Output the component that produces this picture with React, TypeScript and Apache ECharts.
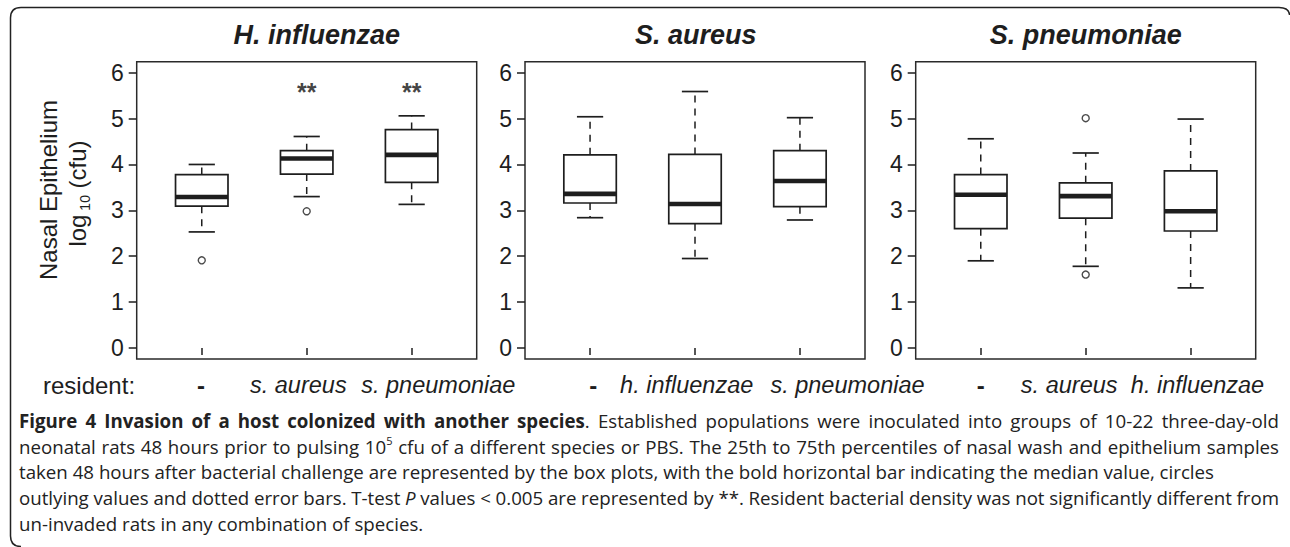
import React, { useEffect, useRef } from 'react';
import * as echarts from 'echarts';

// ---------- data ----------
const panelTitles = ['H. influenzae', 'S. aureus', 'S. pneumoniae'];
const residentLabels = [
  ['-', 's. aureus', 's. pneumoniae'],
  ['-', 'h. influenzae', 's. pneumoniae'],
  ['-', 's. aureus', 'h. influenzae'],
];
const categoryPositions = [1, 2, 3];
const yTickValues = [0, 1, 2, 3, 4, 5, 6];

// [lower whisker, Q1, median, Q3, upper whisker]  (log10 cfu)
const hinfBoxes = [
  [2.53, 3.09, 3.29, 3.78, 4.0],
  [3.3, 3.79, 4.13, 4.3, 4.61],
  [3.13, 3.61, 4.21, 4.76, 5.06],
];
const saurBoxes = [
  [2.84, 3.16, 3.36, 4.21, 5.04],
  [1.95, 2.71, 3.14, 4.22, 5.59],
  [2.79, 3.08, 3.64, 4.3, 5.02],
];
const spnBoxes = [
  [1.9, 2.6, 3.34, 3.78, 4.56],
  [1.78, 2.83, 3.31, 3.6, 4.25],
  [1.31, 2.55, 2.98, 3.86, 4.99],
];
// [category position, value]
const hinfOutliers = [[1, 1.91], [2, 2.98]];
const saurOutliers: number[][] = [];
const spnOutliers = [[2, 5.01], [2, 1.6]];
// significance markers (**)
const hinfSignificance = [[2, 5.65], [3, 5.65]];
const saurSignificance: number[][] = [];
const spnSignificance: number[][] = [];

const captionLines = [
  [
    { t: 'Figure 4 Invasion of a host colonized with another species', s: 'b' },
    { t: '. Established populations were inoculated into groups of 10-22 three-day-old', s: 'n' },
  ],
  [
    { t: 'neonatal rats 48 hours prior to pulsing 10', s: 'n' },
    { t: '5', s: 'sup' },
    { t: ' cfu of a different species or PBS. The 25th to 75th percentiles of nasal wash and epithelium samples', s: 'n' },
  ],
  [
    { t: 'taken 48 hours after bacterial challenge are represented by the box plots, with the bold horizontal bar indicating the median value, circles', s: 'n' },
  ],
  [
    { t: 'outlying values and dotted error bars. T-test ', s: 'n' },
    { t: 'P', s: 'i' },
    { t: ' values < 0.005 are represented by **. Resident bacterial density was not significantly different from', s: 'n' },
  ],
  [{ t: 'un-invaded rats in any combination of species.', s: 'n' }],
];
const captionJustified = [true, true, false, true, false];

// ---------- styling ----------
const INK = '#1e1e1e';
const FONT = '"Liberation Sans", Arial, Helvetica, sans-serif';
const CAP_FONT = '"Open Sans", "Noto Sans", sans-serif';
const CAP_SIZE = 18.7;
const SUP_SIZE = 11;
const CAP_LEFT = 19;
const CAP_RIGHT = 1279;
const CAP_CENTERS = [420, 446, 471.5, 497.5, 523];
const gridLefts = [136.7, 525, 915.7];
const titleCenters = [316.7, 695.8, 1085.8];
const labelCenters = [
  [201, 298.3, 438.3],
  [593.3, 686.7, 847.5],
  [980.7, 1069.2, 1197.5],
];
const LABEL_Y = 385;
const GRID_TOP = 61.7;
const GRID_W = 340;
const GRID_H = 297.3;

const FRAME_D =
  'M21 546.5 Q10.5 546.5 10.5 536 L10.5 18 Q10.5 7.5 21 7.5 L1279 7.5 Q1289 7.5 1289.6 15';
echarts.graphic.registerShape('figFrame', echarts.graphic.extendPath(FRAME_D, {}));

function renderBox(_params: any, api: any) {
  const x = api.value(0);
  const lo = api.value(1);
  const q1 = api.value(2);
  const med = api.value(3);
  const q3 = api.value(4);
  const hi = api.value(5);
  const c = (v: number) => api.coord([x, v]);
  const cx = c(med)[0];
  const bw = api.size([0.5, 0])[0];
  const capHalf = bw / 4;
  const yLo = c(lo)[1];
  const yQ1 = c(q1)[1];
  const yMed = c(med)[1];
  const yQ3 = c(q3)[1];
  const yHi = c(hi)[1];
  const whisk = { stroke: INK, lineWidth: 1.5, lineDash: [7, 6], fill: null };
  const solid = { stroke: INK, lineWidth: 1.7, fill: null };
  return {
    type: 'group',
    children: [
      { type: 'line', shape: { x1: cx, y1: yQ3, x2: cx, y2: yHi }, style: whisk },
      { type: 'line', shape: { x1: cx, y1: yQ1, x2: cx, y2: yLo }, style: whisk },
      { type: 'line', shape: { x1: cx - capHalf, y1: yHi, x2: cx + capHalf, y2: yHi }, style: solid },
      { type: 'line', shape: { x1: cx - capHalf, y1: yLo, x2: cx + capHalf, y2: yLo }, style: solid },
      {
        type: 'rect',
        shape: { x: cx - bw / 2, y: yQ3, width: bw, height: yQ1 - yQ3 },
        style: { fill: '#fff', stroke: INK, lineWidth: 1.7 },
      },
      {
        type: 'line',
        shape: { x1: cx - bw / 2, y1: yMed, x2: cx + bw / 2, y2: yMed },
        style: { stroke: INK, lineWidth: 4.6 },
      },
    ],
  };
}

function buildCaption(): any[] {
  const canvas = document.createElement('canvas');
  const ctx = canvas.getContext('2d') as CanvasRenderingContext2D;
  const sizeOf = (s: string) => (s === 'sup' ? SUP_SIZE : CAP_SIZE);
  const cssFont = (s: string) =>
    `${s === 'i' ? 'italic ' : ''}${s === 'b' ? 'bold ' : ''}${sizeOf(s)}px ${CAP_FONT}`;
  const measure = (t: string, s: string) => {
    ctx.font = cssFont(s);
    return ctx.measureText(t).width;
  };
  const els: any[] = [];
  captionLines.forEach((runs, li) => {
    const words: { t: string; s: string }[][] = [[]];
    runs.forEach((r) => {
      const parts = r.t.split(' ');
      parts.forEach((p, k) => {
        if (k > 0) words.push([]);
        if (p.length) words[words.length - 1].push({ t: p, s: r.s });
      });
    });
    const ws = words.filter((w) => w.length > 0);
    const widths = ws.map((w) => w.reduce((a, p) => a + measure(p.t, p.s), 0));
    const total = widths.reduce((a, b) => a + b, 0);
    const natGap = measure(' ', 'n');
    const gap = captionJustified[li]
      ? Math.max(natGap * 0.8, (CAP_RIGHT - CAP_LEFT - total) / (ws.length - 1))
      : natGap;
    let x = CAP_LEFT;
    const yc = CAP_CENTERS[li];
    ws.forEach((w, wi) => {
      w.forEach((p) => {
        els.push({
          type: 'text',
          x,
          y: p.s === 'sup' ? yc - 6 : yc,
          silent: true,
          style: {
            text: p.t,
            fill: '#222',
            fontFamily: CAP_FONT,
            fontSize: sizeOf(p.s),
            lineHeight: p.s === 'sup' ? 11 : 20,
            fontWeight: p.s === 'b' ? 'bold' : 'normal',
            fontStyle: p.s === 'i' ? 'italic' : 'normal',
            align: 'left',
            verticalAlign: 'middle',
          },
        });
        x += measure(p.t, p.s);
      });
      x += wi < ws.length - 1 ? gap : 0;
    });
  });
  return els;
}

export default function App() {
  const ref = useRef<HTMLDivElement>(null);
  useEffect(() => {
    if (!ref.current) return;
    const chart = echarts.init(ref.current, null, { renderer: 'svg' });
    const boxes = [hinfBoxes, saurBoxes, spnBoxes];
    const outliers = [hinfOutliers, saurOutliers, spnOutliers];
    const sig = [hinfSignificance, saurSignificance, spnSignificance];

    const series: any[] = [];
    [0, 1, 2].forEach((i) => {
      series.push({
        type: 'custom',
        xAxisIndex: i,
        yAxisIndex: i,
        silent: true,
        data: boxes[i].map((b, k) => [categoryPositions[k], ...b]),
        encode: { x: 0, y: [1, 2, 3, 4, 5] },
        renderItem: renderBox,
        z: 3,
      });
      series.push({
        type: 'scatter',
        xAxisIndex: i,
        yAxisIndex: i,
        silent: true,
        symbol: 'circle',
        symbolSize: 7,
        itemStyle: { color: '#fff', borderColor: INK, borderWidth: 1.4 },
        data: outliers[i],
        z: 4,
      });
      series.push({
        type: 'scatter',
        xAxisIndex: i,
        yAxisIndex: i,
        silent: true,
        symbol: 'circle',
        symbolSize: 1,
        itemStyle: { color: 'rgba(0,0,0,0)' },
        label: {
          show: true,
          position: 'inside',
          formatter: '**',
          fontFamily: FONT,
          fontWeight: 'bold',
          fontSize: 25,
          color: '#111',
          offset: [0, 3],
        },
        data: sig[i],
        z: 4,
      });
    });

    const categoryTexts: any[] = [];
    residentLabels.forEach((labels, i) => {
      labels.forEach((s, k) => {
        categoryTexts.push({
          type: 'text',
          x: labelCenters[i][k],
          y: LABEL_Y,
          silent: true,
          style: {
            text: s,
            fill: INK,
            fontFamily: FONT,
            fontSize: s === '-' ? 24 : 23.5,
            fontWeight: s === '-' ? 'bold' : 'normal',
            fontStyle: s === '-' ? 'normal' : 'italic',
            align: 'center',
            verticalAlign: 'middle',
          },
        });
      });
    });

    const graphic: any[] = [
      {
        type: 'figFrame',
        x: 0,
        y: 0,
        silent: true,
        style: { fill: 'none', stroke: '#222', lineWidth: 1.5 },
      },
      ...panelTitles.map((t, i) => ({
        type: 'text',
        x: titleCenters[i],
        y: 35,
        silent: true,
        style: {
          text: t,
          fill: INK,
          fontFamily: FONT,
          fontSize: 27,
          fontWeight: 'bold',
          fontStyle: 'italic',
          align: 'center',
          verticalAlign: 'middle',
        },
      })),
      {
        type: 'text',
        x: 48,
        y: 190,
        rotation: Math.PI / 2,
        silent: true,
        style: {
          text: 'Nasal Epithelium',
          fill: INK,
          fontFamily: FONT,
          fontSize: 24,
          align: 'center',
          verticalAlign: 'middle',
        },
      },
      {
        type: 'text',
        x: 77,
        y: 193.5,
        rotation: Math.PI / 2,
        silent: true,
        style: {
          text: '{a|log}{s| 10}{a| (cfu)}',
          fill: INK,
          align: 'center',
          verticalAlign: 'middle',
          rich: {
            a: { fontFamily: FONT, fontSize: 24, lineHeight: 30, verticalAlign: 'middle', fill: INK },
            s: { fontFamily: FONT, fontSize: 14, lineHeight: 14, verticalAlign: 'bottom', fill: INK },
          },
        },
      },
      {
        type: 'text',
        x: 43,
        y: LABEL_Y,
        silent: true,
        style: {
          text: 'resident:',
          fill: INK,
          fontFamily: FONT,
          fontSize: 24,
          align: 'left',
          verticalAlign: 'middle',
        },
      },
      ...categoryTexts,
      ...buildCaption(),
    ];

    chart.setOption({
      animation: false,
      backgroundColor: '#fff',
      grid: gridLefts.map((l) => ({
        left: l,
        top: GRID_TOP,
        width: GRID_W,
        height: GRID_H,
        show: true,
        borderColor: '#2a2a2a',
        borderWidth: 1.5,
        backgroundColor: 'transparent',
      })),
      xAxis: [0, 1, 2].map((i) => ({
        type: 'value',
        gridIndex: i,
        min: 0.38,
        max: 3.62,
        axisLine: { show: false },
        splitLine: { show: false },
        axisTick: {
          show: true,
          customValues: categoryPositions,
          length: 7,
          lineStyle: { color: INK, width: 1.5 },
        },
        axisLabel: { show: false },
      })),
      yAxis: [0, 1, 2].map((i) => ({
        type: 'value',
        gridIndex: i,
        min: -0.24,
        max: 6.24,
        axisLine: { show: false },
        splitLine: { show: false },
        axisTick: {
          show: true,
          customValues: yTickValues,
          length: 8,
          lineStyle: { color: INK, width: 1.5 },
        },
        axisLabel: {
          show: true,
          customValues: yTickValues,
          margin: 13,
          color: INK,
          fontFamily: FONT,
          fontSize: 23,
        },
      })),
      series,
      graphic,
    });
    return () => chart.dispose();
  }, []);
  return (
    <div
      ref={ref}
      style={{ position: 'absolute', left: 0, top: 0, width: 1290, height: 547, background: '#fff' }}
    />
  );
}
